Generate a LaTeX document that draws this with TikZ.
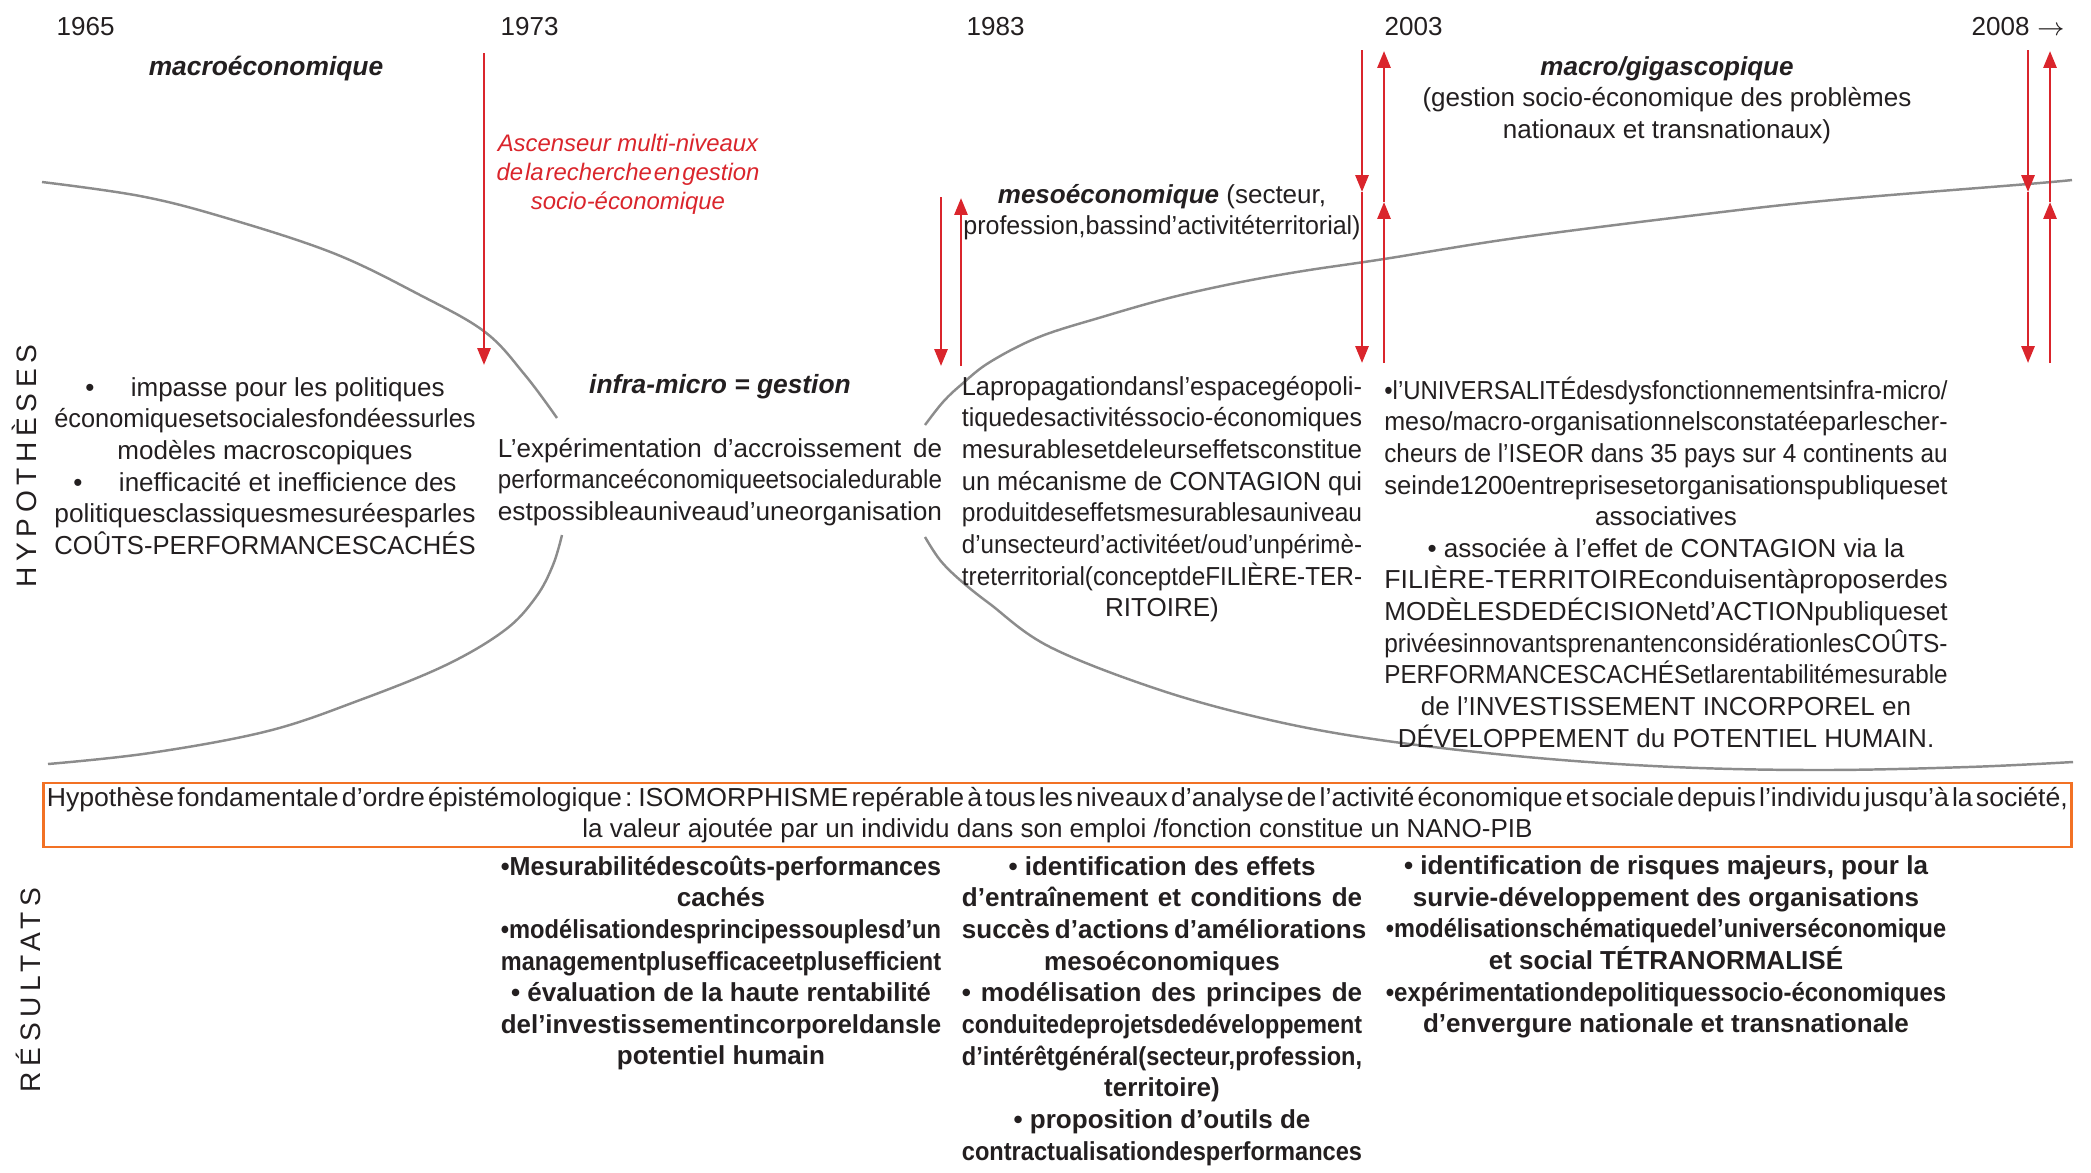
\documentclass[tikz,border=0pt]{standalone}
\usepackage{fontspec}
\usepackage{graphicx}
\setmainfont{Liberation Sans}
\usetikzlibrary{arrows.meta}
\definecolor{rouge}{RGB}{218,37,44}
\definecolor{orangebord}{RGB}{242,113,36}
\definecolor{encre}{RGB}{35,31,32}
\definecolor{grisarc}{RGB}{140,140,140}

% lignes justifiees a la largeur de colonne
\newlength\colw
\newcommand\serre[1]{\resizebox{\colw}{\height}{#1}}
\newcommand\etire[1]{\makebox[\colw][s]{#1}}

\tikzset{
  largeur/.code={\setlength\colw{#1}},
  texte/.style={text=encre, inner sep=0pt, align=center, font=\fontsize{7.4}{9}\selectfont},
  gras/.style={texte, font=\fontsize{7.4}{9}\selectfont\bfseries},
  titre/.style={texte, font=\fontsize{7.5}{9}\selectfont\bfseries\itshape},
  annee/.style={texte, anchor=west},
  axe/.style={texte, rotate=90, font=\fontsize{8}{9}\selectfont\addfontfeatures{LetterSpace=20}},
  rougetxt/.style={texte, text=rouge, font=\fontsize{6.8}{8.25}\selectfont\itshape},
  ascenseur/.style={rouge, line width=0.75pt, -{Triangle[length=4.8pt,width=3.7pt]}},
  arcgris/.style={grisarc, line width=0.7pt},
  boite/.style={texte, draw=orangebord, line width=0.8pt, minimum width=20.27cm, minimum height=0.64cm}
}

\begin{document}
\begin{tikzpicture}[x=0.01cm,y=-0.01cm]
\useasboundingbox (0,0) rectangle (2091,1172);

% les annees
\foreach \an/\px in {1965/56,1973/500,1983/966,2003/1384} {\node[annee] (an\an) at (\px,27) {\an};}
\node[annee] (an2008) at (1971,27) {2008 $\rightarrow$};

% les ellipses
\draw [arcgris] plot[smooth,tension=0.6] coordinates {(42,182) (140,196) (223,217) (333,253) (420,295) (485,332) (525,375) (557,418)};
\draw [arcgris] plot[smooth,tension=0.6] coordinates {(562,535) (553,565) (536,597) (505,630) (446,665) (360,700) (268,731) (150,753) (48,764)};
\draw [arcgris] plot[smooth,tension=0.6] coordinates {(925,425) (943,402) (962,384) (990,362) (1039,337) (1102,317) (1169,298) (1236,283) (1303,271) (1384,259) (1516,238) (1697,215) (1833,200) (2028,184) (2072,180)};
\draw [arcgris] plot[smooth,tension=0.6] coordinates {(925,537) (940,560) (960,580) (990,604) (1050,647) (1160,690) (1270,720) (1380,740) (1527,757) (1674,767) (1821,770) (1968,767) (2073,762)};

% ascenseur
\draw [ascenseur] (484,53)--(484,365);
\draw [ascenseur] (941,197)--(941,366);
\draw [ascenseur] (961,366)--(961,198);
\foreach \xd in {1362,2028} {
\draw [ascenseur] (\xd,50)--(\xd,192);
\draw [ascenseur] (\xd,192)--(\xd,363);
\draw [ascenseur] (\xd+22,363)--(\xd+22,202);
\draw [ascenseur] (\xd+22,202)--(\xd+22,51);
}
\node[rougetxt] (asc) at (628,174) {Ascenseur multi-niveaux\\{\spaceskip=0.08em\relax de la recherche en gestion}\\socio-économique};

% niveaux
\node[titre] (macro) at (266,69) {macroéconomique};
\node[texte] (giga) at (1667,100) {\textbf{\textit{macro/gigascopique}}\\(gestion socio-économique des problèmes\\nationaux et transnationaux)};
\node[texte,largeur=3.97cm] (meso) at (1162,212) {\textbf{\textit{mesoéconomique}} (secteur,\\\serre{profession,bassind’activitéterritorial)}};
\node[titre] (infra) at (720,387) {infra-micro = gestion};

% hypotheses
\node[axe] (hyp) at (24,466) {HYPOTHÈSES};
\node[texte,largeur=4.21cm] (hmacro) at (265,466) {•\hspace{1.4em}impasse pour les politiques\\\serre{économiquesetsocialesfondéessurles}\\modèles macroscopiques\\•\hspace{1.4em}inefficacité et inefficience des\\\serre{politiquesclassiquesmesuréesparles}\\\serre{COÛTS-PERFORMANCESCACHÉS}};
\node[texte,largeur=4.44cm] (hinfra) at (720,482) {\etire{L’expérimentation d’accroissement de}\\\serre{performanceéconomiqueetsocialedurable}\\\serre{estpossibleauniveaud’uneorganisation}};
\node[texte,largeur=4.0cm] (hmeso) at (1162,499) {\serre{Lapropagationdansl’espacegéopoli-}\\\serre{tiquedesactivitéssocio-économiques}\\\serre{mesurablesetdeleurseffetsconstitue}\\\serre{un mécanisme de CONTAGION qui}\\\serre{produitdeseffetsmesurablesauniveau}\\\serre{d’unsecteurd’activitéet/oud’unpérimè-}\\\serre{treterritorial(conceptdeFILIÈRE-TER-}\\RITOIRE)};
\node[texte,largeur=5.63cm] (hgiga) at (1666,562) {\serre{•l’UNIVERSALITÉdesdysfonctionnementsinfra-micro/}\\\serre{meso/macro-organisationnelsconstatéeparlescher-}\\\serre{cheurs de l’ISEOR dans 35 pays sur 4 continents au}\\\serre{seinde1200entreprisesetorganisationspubliqueset}\\associatives\\• associée à l’effet de CONTAGION via la\\\serre{FILIÈRE-TERRITOIREconduisentàproposerdes}\\\serre{MODÈLESDEDÉCISIONetd’ACTIONpubliqueset}\\\serre{privéesinnovantsprenantenconsidérationlesCOÛTS-}\\\serre{PERFORMANCESCACHÉSetlarentabilitémesurable}\\de l’INVESTISSEMENT INCORPOREL en\\DÉVELOPPEMENT du POTENTIEL HUMAIN.};

% hypothese fondamentale
\node[boite,largeur=20.2cm] (fond) at (1057.5,815) {{\spaceskip=0.12em\relax\serre{Hypothèse fondamentale d’ordre épistémologique : ISOMORPHISME repérable à tous les niveaux d’analyse de l’activité économique et sociale depuis l’individu jusqu’à la société,}}\\la valeur ajoutée par un individu dans son emploi /fonction constitue un NANO-PIB};

% resultats
\node[axe] (res) at (28,990) {RÉSULTATS};
\node[gras,largeur=4.40cm] (rinfra) at (721,963) {\serre{•Mesurabilitédescoûts-performances}\\cachés\\\serre{•modélisationdesprincipessouplesd’un}\\\serre{managementplusefficaceetplusefficient}\\• évaluation de la haute rentabilité\\\serre{del’investissementincorporeldansle}\\potentiel humain};
\node[gras,largeur=4.0cm] (rmeso) at (1162,1011) {• identification des effets\\\etire{d’entraînement et conditions de}\\\etire{succès d’actions d’améliorations}\\mesoéconomiques\\\etire{• modélisation des principes de}\\\serre{conduitedeprojetsdedéveloppement}\\\serre{d’intérêtgénéral(secteur,profession,}\\territoire)\\• proposition d’outils de\\\serre{contractualisationdesperformances}};
\node[gras,largeur=5.6cm] (rgiga) at (1666,947) {• identification de risques majeurs, pour la\\survie-développement des organisations\\\serre{•modélisationschématiquedel’universéconomique}\\et social TÉTRANORMALISÉ\\\serre{•expérimentationdepolitiquessocio-économiques}\\d’envergure nationale et transnationale};
\end{tikzpicture}
\end{document}
